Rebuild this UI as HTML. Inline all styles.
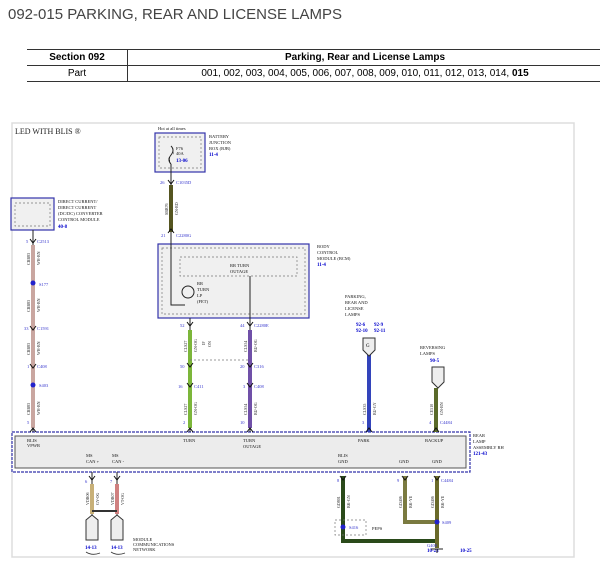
<!DOCTYPE html>
<html><head><meta charset="utf-8"><style>
body{margin:0;background:#fff;width:600px;height:581px;overflow:hidden;font-family:"Liberation Sans",sans-serif}
.t{position:absolute;left:8px;top:6px;font-size:15px;color:#444}
table{position:absolute;left:27px;top:49px;border-collapse:collapse;font-size:10px;width:575px}
td{border-top:1px solid #333;border-bottom:1px solid #333;text-align:center;height:15px;padding:0}
td.a{width:100px;border-right:1px solid #333}
</style></head><body>
<div class="t">092-015 PARKING, REAR AND LICENSE LAMPS</div>
<table><tr><td class="a"><b>Section 092</b></td><td><b>Parking, Rear and License Lamps</b></td></tr>
<tr><td class="a">Part</td><td>001, 002, 003, 004, 005, 006, 007, 008, 009, 010, 011, 012, 013, 014, <b>015</b></td></tr></table>
<svg width="600" height="581" style="position:absolute;left:0;top:0" font-family="Liberation Serif,serif">
<rect x="12" y="123" width="562" height="434" fill="none" stroke="#ddd" stroke-width="1.5"/>
<!-- boxes -->
<rect x="155" y="133" width="50" height="39" fill="#f0f0f0" stroke="#33a" stroke-width="1.2"/>
<rect x="159" y="137" width="42" height="31" fill="none" stroke="#777" stroke-width=".7" stroke-dasharray="2,2"/>
<rect x="11" y="198" width="43" height="32" fill="#f0f0f0" stroke="#33a" stroke-width="1.2"/>
<rect x="15" y="203" width="35" height="23" fill="none" stroke="#777" stroke-width=".7" stroke-dasharray="2,2"/>
<rect x="158" y="244" width="151" height="74" fill="#f0f0f0" stroke="#33a" stroke-width="1.2"/>
<rect x="162" y="248" width="143" height="66" fill="none" stroke="#777" stroke-width=".7" stroke-dasharray="2,2"/>
<rect x="180" y="257" width="117" height="19" fill="none" stroke="#777" stroke-width=".7" stroke-dasharray="2,2"/>
<rect x="12" y="432" width="458" height="40" fill="#fff" stroke="#33a" stroke-width="1.2" stroke-dasharray="3,1"/>
<rect x="15" y="436" width="451" height="32" fill="#ececec" stroke="#555" stroke-width="1"/>
<text x="15" y="134" font-size="8" fill="#222">LED WITH BLIS ®</text>
<!-- wires -->
<g fill="none" stroke-linecap="butt">
<path d="M171 150V305H185" stroke="#222" stroke-width="1"/>
<path d="M171 185V232" stroke="#555520" stroke-width="4"/>
<path d="M33 230V432" stroke="#222" stroke-width="1"/>
<path d="M33 245V428" stroke="#c9a6a0" stroke-width="4"/>
<path d="M190 318V432M250 276V432" stroke="#222" stroke-width="1"/>
<path d="M190 330V428" stroke="#7cb63a" stroke-width="4"/>
<path d="M250 330V428" stroke="#7050a8" stroke-width="4"/>
<path d="M190 360H250" stroke="#777" stroke-width=".8" stroke-dasharray="2,2"/>
<path d="M369 354V432" stroke="#3344bb" stroke-width="4"/>
<path d="M436 388V432" stroke="#5a6a2a" stroke-width="4"/>
<path d="M92 472V520M117 472V520" stroke="#222" stroke-width="1"/>
<path d="M92 484V514" stroke="#c8b078" stroke-width="4"/>
<path d="M117 484V514" stroke="#d08080" stroke-width="4"/>
<path d="M92 511H117" stroke="#333" stroke-width="2"/>
<path d="M343 476V541H436" stroke="#2a4a1a" stroke-width="4"/>
<path d="M405 476V522H437" stroke="#7a7a40" stroke-width="4"/>
<path d="M437 476V548" stroke="#6a6a2a" stroke-width="4"/>
<path d="M171 150Q175 153 171 156Q167 159 171 162" stroke="#222" stroke-width="1"/>
</g>
<rect x="170" y="146" width="3" height="18" fill="#f0f0f0"/>
<path d="M171 146Q175 150 171 155Q167 160 171 164" fill="none" stroke="#222" stroke-width="1"/>
<g font-size="4.5" fill="#111">
<text x="158" y="130">Hot at all times</text>
<text x="209" y="138">BATTERY</text><text x="209" y="144">JUNCTION</text><text x="209" y="150">BOX (BJB)</text>
<text x="58" y="203">DIRECT CURRENT/</text><text x="58" y="209">DIRECT CURRENT</text><text x="58" y="215">(DC/DC) CONVERTER</text><text x="58" y="221">CONTROL MODULE</text>
<text x="317" y="248">BODY</text><text x="317" y="254">CONTROL</text><text x="317" y="260">MODULE (BCM)</text>
<text x="345" y="298">PARKING,</text><text x="345" y="304">REAR AND</text><text x="345" y="310">LICENSE</text><text x="345" y="316">LAMPS</text>
<text x="420" y="349">REVERSING</text><text x="420" y="355">LAMPS</text>
<text x="473" y="437">REAR</text><text x="473" y="443">LAMP</text><text x="473" y="449">ASSEMBLY RH</text>
<text x="133" y="541">MODULE</text><text x="133" y="546">COMMUNICATIONS</text><text x="133" y="551">NETWORK</text>
<text x="230" y="267">RR TURN</text><text x="230" y="273">OUTAGE</text>
<text x="197" y="285">RR</text><text x="197" y="291">TURN</text><text x="197" y="297">LP</text><text x="197" y="303">(FET)</text>
<text x="27" y="442">BLIS</text><text x="27" y="447">VPWR</text>
<text x="183" y="442">TURN</text><text x="243" y="442">TURN</text><text x="243" y="448">OUTAGE</text>
<text x="358" y="442">PARK</text><text x="425" y="442">BACKUP</text>
<text x="86" y="457">MS</text><text x="86" y="463">CAN +</text><text x="112" y="457">MS</text><text x="112" y="463">CAN -</text>
<text x="338" y="457">BLIS</text><text x="338" y="463">GND</text><text x="399" y="463">GND</text><text x="432" y="463">GND</text>
<text x="372" y="530">PEPS</text>
<text x="176" y="150">F76</text><text x="176" y="155">40A</text>
</g>
<g font-size="5" font-weight="bold" fill="#00c">
<text x="176" y="162">13-06</text><text x="209" y="156">11-4</text><text x="58" y="228">40-8</text><text x="317" y="266">11-4</text>
<text x="356" y="326">92-6</text><text x="374" y="326">92-9</text><text x="356" y="332">92-10</text><text x="374" y="332">92-11</text>
<text x="430" y="362">90-5</text><text x="473" y="455">121-43</text>
<text x="85" y="549">14-13</text><text x="111" y="549">14-13</text>
<text x="427" y="552">10-23</text><text x="460" y="552">10-25</text>
</g>
<g font-size="4.5" fill="#33c">
<text x="160" y="184">26</text><text x="176" y="184">C1035D</text>
<text x="161" y="237">21</text><text x="176" y="237">C2280G</text>
<text x="26" y="243">5</text><text x="37" y="243">C2513</text>
<text x="39" y="286">S177</text>
<text x="24" y="330">33</text><text x="37" y="330">C1591</text>
<text x="27" y="368">1</text><text x="37" y="368">C408</text>
<text x="39" y="387">S403</text>
<text x="27" y="424">5</text>
<text x="180" y="327">52</text><text x="240" y="327">44</text><text x="254" y="327">C2280E</text>
<text x="180" y="368">50</text><text x="240" y="368">20</text><text x="254" y="368">C316</text>
<text x="178" y="388">16</text><text x="194" y="388">C411</text><text x="243" y="388">3</text><text x="254" y="388">C408</text>
<text x="183" y="424">2</text><text x="240" y="424">10</text>
<text x="362" y="424">3</text><text x="429" y="424">4</text><text x="440" y="424">C4484</text>
<text x="337" y="482">8</text><text x="397" y="482">9</text><text x="431" y="482">1</text><text x="441" y="482">C4484</text>
<text x="85" y="483">6</text><text x="110" y="483">7</text>
<text x="442" y="524">S409</text><text x="349" y="529">S416</text><text x="427" y="547">G400</text>
</g>
<circle cx="188" cy="292" r="6" fill="none" stroke="#222" stroke-width="1"/>
<circle cx="33" cy="283" r="2.5" fill="#22c"/><circle cx="33" cy="385" r="2.5" fill="#22c"/>
<circle cx="437" cy="522" r="2.5" fill="#22c"/><circle cx="343" cy="527" r="2.5" fill="#22c"/>
<rect x="335" y="520" width="31" height="15" fill="none" stroke="#777" stroke-width=".7" stroke-dasharray="2,2"/>
<path d="M431 549H443M437 549V553" stroke="#222" stroke-width="1"/>
<g fill="#eee" stroke="#333" stroke-width="1">
<path d="M363 338H375V350L369 356L363 350Z"/>
<path d="M432 367H444V382L438 388L432 382Z"/>
<path d="M86 520L92 515L98 520V540H86Z"/>
<path d="M111 520L117 515L123 520V540H111Z"/>
</g>
<text x="366" y="347" font-size="5">G</text>
<path d="M86 552Q92 556 100 553M111 552Q117 556 125 553" fill="none" stroke="#333" stroke-width=".8"/>
<g font-size="4" fill="#222">
<text transform="translate(168,215) rotate(-90)">SBB76</text><text transform="translate(178,215) rotate(-90)">GN-RD</text>
<text transform="translate(30,265) rotate(-90)">CBB83</text><text transform="translate(40,265) rotate(-90)">WH-BN</text>
<text transform="translate(30,312) rotate(-90)">CBB83</text><text transform="translate(40,312) rotate(-90)">WH-BN</text>
<text transform="translate(30,355) rotate(-90)">CBB83</text><text transform="translate(40,355) rotate(-90)">WH-BN</text>
<text transform="translate(30,415) rotate(-90)">CBB83</text><text transform="translate(40,415) rotate(-90)">WH-BN</text>
<text transform="translate(187,352) rotate(-90)">CLS27</text><text transform="translate(197,352) rotate(-90)">GN-OG</text>
<text transform="translate(187,415) rotate(-90)">CLS27</text><text transform="translate(197,415) rotate(-90)">GN-OG</text>
<text transform="translate(247,352) rotate(-90)">CLS54</text><text transform="translate(257,352) rotate(-90)">BU-OG</text>
<text transform="translate(247,415) rotate(-90)">CLS54</text><text transform="translate(257,415) rotate(-90)">BU-OG</text>
<text transform="translate(366,415) rotate(-90)">CLS35</text><text transform="translate(376,415) rotate(-90)">BU-GY</text>
<text transform="translate(433,415) rotate(-90)">CE510</text><text transform="translate(443,415) rotate(-90)">GN-BN</text>
<text transform="translate(340,508) rotate(-90)">GD801</text><text transform="translate(350,508) rotate(-90)">BK-GN</text>
<text transform="translate(402,508) rotate(-90)">GD406</text><text transform="translate(412,508) rotate(-90)">BK-YE</text>
<text transform="translate(434,508) rotate(-90)">GD406</text><text transform="translate(444,508) rotate(-90)">BK-YE</text>
<text transform="translate(89,505) rotate(-90)">VDB06</text><text transform="translate(99,505) rotate(-90)">GY-OG</text>
<text transform="translate(114,505) rotate(-90)">VDB07</text><text transform="translate(124,505) rotate(-90)">VT-OG</text>
<text transform="translate(205,345) rotate(-90)">IF</text><text transform="translate(211,347) rotate(-90)">ON</text>
</g>
<g fill="none" stroke="#111" stroke-width="1">
<path d="M168 180L171 184L174 180M168 233L171 229L174 233M30 239L33 243L36 239M30 326L33 330L36 326M30 364L33 368L36 364M30 432L33 428L36 432M187 322L190 326L193 322M247 322L250 326L253 322M187 363L190 367L193 363M247 363L250 367L253 363M187 383L190 387L193 383M247 383L250 387L253 383M187 432L190 428L193 432M247 432L250 428L253 432M366 432L369 428L372 432M433 432L436 428L439 432M89 476L92 480L95 476M114 476L117 480L120 476M340 476L343 480L346 476M402 476L405 480L408 476M434 476L437 480L440 476"/>
</g>
</svg>
</body></html>
